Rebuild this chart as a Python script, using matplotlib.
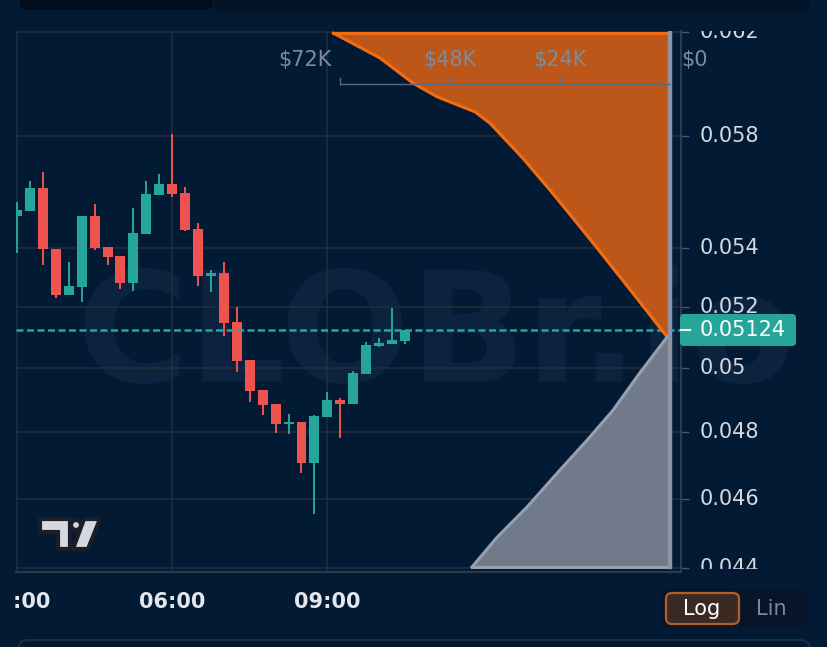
import numpy as np
import matplotlib
matplotlib.use('Agg')
import matplotlib.pyplot as plt
from matplotlib.patches import FancyBboxPatch, Polygon, Circle
from matplotlib.transforms import Affine2D, blended_transform_factory
from matplotlib.lines import Line2D
from matplotlib.ticker import NullLocator


# --- data (15 min candles, first one at 03:00) ---
time_labels = ['03:00', '06:00', '09:00']
time_label_idx = [0, 12, 24]

opens = [0.05511, 0.05529, 0.05611, 0.05396, 0.05240, 0.05267, 0.05511, 0.05403,
         0.05372, 0.05280, 0.05448, 0.05586, 0.05625, 0.05593, 0.05466, 0.05304,
         0.05314, 0.05150, 0.05026, 0.04931, 0.04887, 0.04825, 0.04831, 0.04706,
         0.04846, 0.04899, 0.04887, 0.04981, 0.05072, 0.05078, 0.05088]
highs = [0.05561, 0.05636, 0.05669, 0.05396, 0.05352, 0.05511, 0.05554, 0.05403,
         0.05372, 0.05540, 0.05636, 0.05661, 0.05808, 0.05615, 0.05487, 0.05324,
         0.05352, 0.05200, 0.05026, 0.04931, 0.04887, 0.04856, 0.04831, 0.04853,
         0.04924, 0.04906, 0.04991, 0.05085, 0.05098, 0.05196, 0.05124]
lows = [0.05382, 0.05529, 0.05341, 0.05230, 0.05240, 0.05216, 0.05393, 0.05341,
        0.05260, 0.05253, 0.05448, 0.05586, 0.05579, 0.05459, 0.05270, 0.05250,
        0.05104, 0.04988, 0.04893, 0.04853, 0.04797, 0.04794, 0.04676, 0.04555,
        0.04846, 0.04782, 0.04887, 0.04981, 0.05068, 0.05078, 0.05078]
closes = [0.05533, 0.05611, 0.05396, 0.05240, 0.05270, 0.05511, 0.05400, 0.05369,
          0.05280, 0.05452, 0.05589, 0.05625, 0.05589, 0.05462, 0.05304, 0.05314,
          0.05147, 0.05023, 0.04928, 0.04884, 0.04825, 0.04831, 0.04706, 0.04849,
          0.04899, 0.04887, 0.04985, 0.05075, 0.05081, 0.05091, 0.05124]
last_price = 0.05124

price_ticks = [0.062, 0.058, 0.054, 0.052, 0.05, 0.048, 0.046, 0.044]
price_tick_labels = ['0.062', '0.058', '0.054', '0.052', '0.05', '0.048', '0.046', '0.044']

# order book depth, cumulative in thousand $
ask_depth = [0.6, 8.1, 13.8, 19.6, 26.2, 32.1, 39.3, 42.5, 50.8, 56.1, 63.3, 73.5]
ask_price = [0.05101, 0.05246, 0.05358, 0.05473, 0.05604, 0.05719, 0.05849,
             0.05891, 0.05948, 0.06001, 0.06098, 0.06196]
bid_depth = [0.6, 6.6, 12.4, 18.1, 24.0, 31.2, 37.7, 43.2]
bid_price = [0.05101, 0.04985, 0.04868, 0.04775, 0.04685, 0.04575, 0.04488, 0.04403]
depth_ticks = [72, 48, 24, 0]
depth_tick_labels = ['$72K', '$48K', '$24K', '$0']

# --- colors ---
BG = '#021a33'
GRID = '#222d3b'
GREEN = '#26a69a'
RED = '#ef5350'
ASK_FILL = '#bd5719'
ASK_LINE = '#f36c12'
BID_FILL = '#717a8b'
BID_LINE = '#98a0af'

W, H = 828, 647
fig = plt.figure(figsize=(W / 100, H / 100), dpi=100)
fig.patch.set_facecolor(BG)
# pixel coordinates with origin top-left
px = Affine2D().scale(1 / W, -1 / H).translate(0, 1) + fig.transFigure


def fig_box(x0, y0, x1, y1):
    return [x0 / W, 1 - y1 / H, (x1 - x0) / W, (y1 - y0) / H]


# --- main candle axes ---
ax = fig.add_axes(fig_box(16, 31, 681, 572))
ax.set_facecolor(BG)
ax.set_yscale('log')
ax.set_ylim(0.04389, 0.06204)
ax.set_xlim(-0.08, 51.35)

ax.text(0.632, 0.351, 'CLOBr.io', transform=ax.transAxes, ha='center', va='baseline',
        fontsize=110, fontweight='bold', color='#0c2340', zorder=0.5, clip_on=False)

idx = np.arange(len(opens))
o = np.array(opens)
c = np.array(closes)
colors = np.where(c >= o, GREEN, RED)
ax.vlines(idx, lows, highs, colors=colors, lw=1.4, zorder=3)
ax.bar(idx, np.abs(c - o), bottom=np.minimum(o, c), width=0.77, color=colors, zorder=3)

ax.axhline(last_price, color=GREEN, lw=1.8, dashes=(2.8, 1.4), zorder=4)

ax.set_yticks(price_ticks)
ax.yaxis.set_minor_locator(NullLocator())
ax.yaxis.tick_right()
ax.tick_params(axis='y', length=6, width=1, color='#4b5567', labelright=False)
ax.set_xticks(time_label_idx)
ax.tick_params(axis='x', length=0, labelbottom=False)
ax.grid(True, color=GRID, lw=1.2)
for side in ['top', 'left']:
    ax.spines[side].set_visible(False)
ax.spines['right'].set_color('#343f4f')
ax.spines['bottom'].set_color('#2d3848')
ax.spines['right'].set_linewidth(1.3)
ax.spines['bottom'].set_linewidth(1.5)

# time labels, clipped on the left like the original pane
ax_time = fig.add_axes(fig_box(12, 573, 681, 640))
ax_time.set_axis_off()
ttrans = blended_transform_factory(ax.transData, ax_time.transAxes)
for i, lab in zip(time_label_idx, time_labels):
    ax_time.text(i, 0.57, lab, transform=ttrans, ha='center', va='center',
                 fontsize=15, fontweight='bold', color='#e4e6eb', clip_on=True)

# --- depth overlay ---
ax2 = ax.twiny()
ax2.set_xlim(142.7, -2.4)
ax2.axis('off')
ax2.fill_betweenx(ask_price, ask_depth, 0, color=ASK_FILL, lw=0)
ax2.plot(ask_depth, ask_price, color=ASK_LINE, lw=2.2, solid_capstyle='round')
ax2.plot([ask_depth[-1], 0], [ask_price[-1]] * 2, color=ASK_LINE, lw=2.2)
ax2.fill_betweenx(bid_price, bid_depth, 0, color=BID_FILL, lw=0)
ax2.plot(bid_depth, bid_price, color=BID_LINE, lw=2.2)
ax2.plot([bid_depth[-1], 0], [bid_price[-1]] * 2, color=BID_LINE, lw=2.2)
ax2.plot([0, 0], [bid_price[-1], ask_price[-1]], color='#8d95a5', lw=3.2)

dtrans = blended_transform_factory(ax2.transData, ax2.transAxes)
ax2.plot([depth_ticks[0], 0], [0.902, 0.902], transform=dtrans, color='#5d687a', lw=1)
for d in depth_ticks[:-1]:
    ax2.plot([d, d], [0.902, 0.913], transform=dtrans, color='#5d687a', lw=1)
label_offsets = {'$72K': (-6, 'right'), '$0': (8, 'left')}
for d, lab in zip(depth_ticks, depth_tick_labels):
    dx, ha = label_offsets.get(lab, (0, 'center'))
    ax2.annotate(lab, xy=(d, 0.9473), xycoords=('data', 'axes fraction'),
                 xytext=(dx, 0), textcoords='offset points', ha=ha, va='center',
                 fontsize=15, color='#7e8a9e', annotation_clip=False)

# --- price labels (clipped at the ends like the original) ---
ax_lab = fig.add_axes(fig_box(681, 31, 828, 569))
ax_lab.set_axis_off()
ltrans = blended_transform_factory(ax_lab.transAxes, ax.transData)
for p, lab in zip(price_ticks, price_tick_labels):
    ax_lab.text(0.13, p, lab, transform=ltrans, ha='left', va='center',
                fontsize=15, color='#d6d9e0', clip_on=True)

# last price tag
y_last = H - ax.transData.transform((0, last_price))[1]
fig.add_artist(FancyBboxPatch((680, y_last - 16), 116, 32,
                              boxstyle='round,pad=0,rounding_size=4',
                              transform=px, fc=GREEN, ec='none', zorder=2))
fig.add_artist(Line2D([681, 690], [y_last, y_last], transform=px, color='white', lw=1.5, zorder=3))
fig.text(700, y_last, '%.5f' % last_price, transform=px, ha='left', va='center',
         fontsize=15, color='white', zorder=4)

# --- TradingView logo ---
logo_dark = '#1b1d27'
logo_light = '#d6d8e0'
for shape in [Polygon([(40, 519), (70, 519), (70, 549), (58, 549), (58, 532), (40, 532)]),
              Circle((76, 525), 5),
              Polygon([(84, 519), (100, 519), (88, 549), (73, 549)])]:
    shape.set_transform(px)
    shape.set_facecolor(logo_light)
    shape.set_edgecolor(logo_dark)
    shape.set_linewidth(3)
    shape.set_joinstyle('miter')
    shape.set_zorder(2)
    fig.add_artist(shape)

# --- Log / Lin switch ---
fig.add_artist(FancyBboxPatch((662, 589), 146, 38, boxstyle='round,pad=0,rounding_size=8',
                              transform=px, fc='#08142a', ec='none', zorder=1))
fig.add_artist(FancyBboxPatch((666, 593), 73, 31, boxstyle='round,pad=0,rounding_size=6',
                              transform=px, fc='#3b2a24', ec='#b25f2a', lw=1.6, zorder=2))
fig.text(702, 609, 'Log', transform=px, ha='center', va='center', fontsize=15, color='white', zorder=3)
fig.text(771, 609, 'Lin', transform=px, ha='center', va='center', fontsize=15, color='#7b879b', zorder=3)

# --- panels at top and bottom edge ---
fig.add_artist(FancyBboxPatch((215, -12), 595, 24, boxstyle='round,pad=0,rounding_size=8',
                              transform=px, fc='#011428', ec='none', zorder=1))
fig.add_artist(FancyBboxPatch((20, -12), 193, 22, boxstyle='round,pad=0,rounding_size=8',
                              transform=px, fc='#010d1c', ec='none', zorder=1))
fig.add_artist(FancyBboxPatch((18, 640), 792, 40, boxstyle='round,pad=0,rounding_size=10',
                              transform=px, fc='#03192f', ec='#1c2d42', lw=1.5, zorder=1))

plt.savefig('out.png', dpi=100, facecolor=BG)
